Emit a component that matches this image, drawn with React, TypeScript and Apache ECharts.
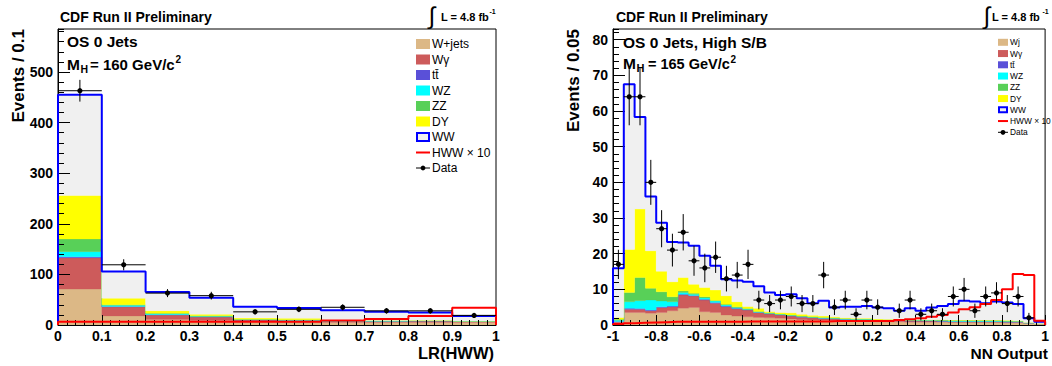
import React, { useEffect, useRef } from "react";
import * as echarts from "echarts";

const FONT = "'Liberation Sans', Arial, Helvetica, sans-serif";

// ---------------- Left panel: LR(HWW), 10 bins ----------------
const L_EDGES = [0, 0.1, 0.2, 0.3, 0.4, 0.5, 0.6, 0.7, 0.8, 0.9, 1.0];
const L_WJ = [71, 18, 11, 9, 7, 6, 5, 5, 5, 5];
const L_WG = [62, 18, 9, 7, 3, 3, 2.5, 2.5, 3, 2];
const L_TT = [2, 0.5, 0.3, 0.2, 0.2, 0.2, 0.1, 0.1, 0.1, 0.1];
const L_WZ = [10, 2.5, 2, 1, 0.5, 0.5, 0.4, 0.4, 0.3, 0.3];
const L_ZZ = [25, 1, 1, 1, 0.5, 0.5, 0.4, 0.4, 0.3, 0.3];
const L_DY = [86, 13, 5, 3, 2.5, 3, 0.6, 0.5, 0.5, 0.3];
const L_WW = [199, 52.5, 36.7, 32.8, 22.3, 20.3, 20, 17.1, 15.3, 10];
const L_HWW10 = [6.5, 6.5, 6.5, 6.5, 6.5, 6.5, 9, 12, 18, 34];
const L_DATA = [463, 119, 63, 58, 26, 31, 35, 28, 28, 19];
const L_DATA_ERR = [21.5, 10.9, 7.9, 7.6, 5.1, 5.6, 5.9, 5.3, 5.3, 4.4];
const L_LEGEND = ["W+jets", "W\u03b3", "tt\u0304", "WZ", "ZZ", "DY", "WW", "HWW \u00d7 10", "Data"];

// ---------------- Right panel: NN Output, 40 bins ----------------
const R_EDGES = [
  -1, -0.95, -0.9, -0.85, -0.8, -0.75, -0.7, -0.65, -0.6, -0.55, -0.5, -0.45, -0.4, -0.35,
  -0.3, -0.25, -0.2, -0.15, -0.1, -0.05, 0, 0.05, 0.1, 0.15, 0.2, 0.25, 0.3, 0.35, 0.4, 0.45,
  0.5, 0.55, 0.6, 0.65, 0.7, 0.75, 0.8, 0.85, 0.9, 0.95, 1,
];
const R_WJ = [0.6, 3.5, 3.5, 3.3, 3.5, 4.0, 4.7, 4.9, 3.7, 3.5, 2.8, 2.5, 2.3, 2.1, 2.0, 1.9, 1.7, 1.5, 1.4, 1.3, 1.2, 1.1, 1.0, 1.0, 0.9, 0.9, 0.9, 0.8, 0.8, 0.8, 0.8, 0.7, 0.7, 0.7, 0.7, 0.7, 0.6, 0.6, 0.5, 0.3];
const R_WG = [0.3, 0.9, 0.9, 0.7, 1.4, 1.1, 3.7, 3.2, 3.3, 2.6, 2.3, 2.0, 1.9, 1.4, 1.1, 0.9, 0.8, 0.7, 0.6, 0.5, 0.5, 0.4, 0.4, 0.4, 0.3, 0.3, 0.3, 0.3, 0.3, 0.3, 0.2, 0.2, 0.2, 0.2, 0.2, 0.2, 0.2, 0.2, 0.1, 0.1];
const R_TT = [0.1, 0.3, 0.2, 0.2, 0.2, 0.2, 0.2, 0.2, 0.2, 0.2, 0.2, 0.2, 0.1, 0.1, 0.1, 0.1, 0.1, 0.1, 0.1, 0.1, 0.1, 0.1, 0.1, 0.1, 0.1, 0.1, 0.1, 0.1, 0.1, 0.1, 0.1, 0.1, 0.1, 0.1, 0.1, 0.1, 0.1, 0.1, 0.0, 0.0];
const R_WZ = [0.3, 1.8, 2.2, 2.8, 1.6, 1.2, 0.5, 0.3, 0.4, 0.4, 0.3, 0.2, 0.1, 0.1, 0.1, 0.1, 0.1, 0.1, 0.1, 0.1, 0.1, 0.1, 0.1, 0.1, 0.1, 0.1, 0.1, 0.1, 0.1, 0.1, 0.1, 0.1, 0.1, 0.1, 0.1, 0.1, 0.1, 0.1, 0.0, 0.0];
const R_ZZ = [0.3, 2.6, 6.5, 3.3, 2.6, 1.4, 0.4, 0.3, 0.3, 0.2, 0.2, 0.2, 0.2, 0.1, 0.1, 0.1, 0.1, 0.1, 0.1, 0.1, 0.1, 0.1, 0.1, 0.1, 0.1, 0.1, 0.1, 0.1, 0.1, 0.1, 0.2, 0.2, 0.2, 0.2, 0.2, 0.2, 0.2, 0.1, 0.1, 0.0];
const R_DY = [0.5, 12.1, 19.2, 10.5, 5.8, 4.2, 3.8, 2.5, 2.6, 2.9, 2.4, 1.4, 0.6, 0.9, 0.4, 0.4, 0.6, 0.5, 0.4, 0.4, 0.3, 0.2, 0.2, 0.2, 0.2, 0.1, 0.1, 0.1, 0.1, 0.1, 0.1, 0.1, 0.1, 0.1, 0.1, 0.1, 0.1, 0.1, 0.0, 0.0];
const R_WW = [13.8, 46.3, 25.8, 15.2, 13.6, 11.2, 9.8, 10.8, 8.9, 6.8, 4.6, 6.0, 6.9, 6.2, 5.3, 4.9, 5.2, 4.5, 3.4, 4.3, 2.6, 3.1, 3.2, 3.4, 3.2, 3.1, 2.4, 3.2, 2.5, 3.4, 3.8, 4.5, 5.4, 5.2, 4.7, 5.2, 5.0, 4.7, 1.2, 0.5];
const R_HWW10 = [0.3, 0.5, 0.6, 0.7, 0.8, 0.9, 0.9, 0.9, 0.9, 0.9, 0.9, 0.9, 1.0, 1.0, 1.0, 1.0, 1.0, 1.0, 1.0, 1.0, 1.1, 1.1, 1.1, 1.1, 1.1, 1.1, 1.4, 1.6, 1.9, 2.3, 2.8, 3.5, 4.4, 5.0, 5.9, 7.0, 10.0, 14.3, 14.0, 1.2];
const R_DATA = [17, 64, 64, 40, 27, 21, 26, 18, 16, 19, 13, 14, 17, 7, 6, 7, 8, 6, 6, 14, 5, 7, 3, 7, 5, 0, 4, 7, 3, 4, 3, 8, 10, 4, 8, 9, 6, 8, 2, 0];
const R_DATA_ERR = [4.1, 8, 8, 6.3, 5.2, 4.6, 5.1, 4.2, 4, 4.4, 3.6, 3.7, 4.1, 2.6, 2.4, 2.6, 2.8, 2.4, 2.4, 3.7, 2.2, 2.6, 1.7, 2.6, 2.2, 0, 2, 2.6, 1.7, 2, 1.7, 2.8, 3.2, 2, 2.8, 3, 2.4, 2.8, 1.4, 0];
const R_LEGEND = ["Wj", "W\u03b3", "tt\u0304", "WZ", "ZZ", "DY", "WW", "HWW \u00d7 10", "Data"];

// ---------------- Styles ----------------
const C_WJ = "#dcb886";
const C_WG = "#cd5b5b";
const C_TT = "#5a50d8";
const C_WZ = "#00ffff";
const C_ZZ = "#58d058";
const C_DY = "#ffff00";
const C_WW = "#f0f0f0";
const C_WWLINE = "#0000ff";
const C_HWW = "#ff0000";
const STACK_COLORS = [C_WJ, C_WG, C_TT, C_WZ, C_ZZ, C_DY, C_WW];

type Pt = [number, number];

function stepPolygon(edges: number[], lower: number[], upper: number[]): Pt[] {
  const pts: Pt[] = [];
  for (let i = 0; i < upper.length; i++) {
    pts.push([edges[i], upper[i]], [edges[i + 1], upper[i]]);
  }
  for (let i = upper.length - 1; i >= 0; i--) {
    pts.push([edges[i + 1], lower[i]], [edges[i], lower[i]]);
  }
  return pts;
}

function stepOutline(edges: number[], tops: number[]): Pt[] {
  const n = tops.length;
  const pts: Pt[] = [[edges[0], 0]];
  for (let i = 0; i < n; i++) {
    pts.push([edges[i], tops[i]], [edges[i + 1], tops[i]]);
  }
  pts.push([edges[n], 0]);
  return pts;
}

function panelSeries(
  axisIdx: number,
  edges: number[],
  parts: number[][],
  hww: number[],
  data: number[],
  err: number[]
): any[] {
  const out: any[] = [];
  const n = edges.length - 1;
  let base = new Array(n).fill(0);
  const tops: number[][] = [];
  parts.forEach((vals, k) => {
    const top = base.map((b: number, i: number) => b + vals[i]);
    const poly = stepPolygon(edges, base, top);
    const color = STACK_COLORS[k];
    out.push({
      type: "custom",
      xAxisIndex: axisIdx,
      yAxisIndex: axisIdx,
      silent: true,
      z: 2,
      data: [[edges[0], 0]],
      renderItem: (_p: any, api: any) => ({
        type: "polygon",
        shape: { points: poly.map((p) => api.coord(p)) },
        style: { fill: color, stroke: color, lineWidth: 0.3 },
      }),
    });
    tops.push(top);
    base = top;
  });
  const wwTop = tops[tops.length - 1];
  out.push({
    type: "line",
    xAxisIndex: axisIdx,
    yAxisIndex: axisIdx,
    data: stepOutline(edges, wwTop),
    showSymbol: false,
    symbol: "none",
    silent: true,
    z: 4,
    lineStyle: { color: C_WWLINE, width: 2 },
  });
  out.push({
    type: "line",
    xAxisIndex: axisIdx,
    yAxisIndex: axisIdx,
    data: stepOutline(edges, hww),
    showSymbol: false,
    symbol: "none",
    silent: true,
    z: 4,
    lineStyle: { color: C_HWW, width: 2 },
  });
  const pts = data
    .map((v, i) => [(edges[i] + edges[i + 1]) / 2, v, err[i], edges[i], edges[i + 1]])
    .filter((d) => d[1] > 0);
  out.push({
    type: "custom",
    xAxisIndex: axisIdx,
    yAxisIndex: axisIdx,
    silent: true,
    z: 6,
    data: pts,
    encode: { x: 0, y: 1 },
    renderItem: (_p: any, api: any) => {
      const xc = api.value(0);
      const y = api.value(1);
      const e = api.value(2);
      const x0 = api.value(3);
      const x1 = api.value(4);
      const pc = api.coord([xc, y]);
      const pl = api.coord([x0, y]);
      const pr = api.coord([x1, y]);
      const pt = api.coord([xc, y + e]);
      const pb = api.coord([xc, Math.max(0, y - e)]);
      return {
        type: "group",
        children: [
          { type: "line", shape: { x1: pl[0], y1: pc[1], x2: pr[0], y2: pc[1] }, style: { stroke: "#000", lineWidth: 1 } },
          { type: "line", shape: { x1: pc[0], y1: pt[1], x2: pc[0], y2: pb[1] }, style: { stroke: "#000", lineWidth: 1 } },
          { type: "circle", shape: { cx: pc[0], cy: pc[1], r: 2.6 }, style: { fill: "#000" } },
        ],
      };
    },
  });
  return out;
}

const labelFont = { fontFamily: FONT, fontWeight: "bold" as const, fontSize: 14, color: "#000" };
const fmt1 = (v: number) => String(Math.round(v * 10) / 10);

function xAxes(grid: number, min: number, max: number, major: number, minor: number) {
  return [
    {
      type: "value", gridIndex: grid, position: "bottom", min, max, interval: major, z: 3,
      axisLine: { show: true, onZero: false, lineStyle: { color: "#000", width: 1 } },
      axisTick: { show: true, inside: true, length: 10, lineStyle: { color: "#000", width: 1 } },
      splitLine: { show: false },
      axisLabel: { ...labelFont, margin: 4, formatter: fmt1, showMinLabel: true, showMaxLabel: true },
    },
    {
      type: "value", gridIndex: grid, position: "bottom", min, max, interval: minor, z: 3,
      axisLine: { show: false, onZero: false },
      axisTick: { show: true, inside: true, length: 5, lineStyle: { color: "#000", width: 1 } },
      splitLine: { show: false },
      axisLabel: { show: false },
    },
  ];
}

function yAxes(grid: number, max: number, major: number, minor: number) {
  return [
    {
      type: "value", gridIndex: grid, position: "left", min: 0, max, interval: major, z: 3,
      axisLine: { show: true, onZero: false, lineStyle: { color: "#000", width: 1 } },
      axisTick: { show: true, inside: true, length: 12, lineStyle: { color: "#000", width: 1 } },
      splitLine: { show: false },
      axisLabel: { ...labelFont, margin: 5, showMaxLabel: false, showMinLabel: true },
    },
    {
      type: "value", gridIndex: grid, position: "left", min: 0, max, interval: minor, z: 3,
      axisLine: { show: false, onZero: false },
      axisTick: { show: true, inside: true, length: 6, lineStyle: { color: "#000", width: 1 } },
      splitLine: { show: false },
      axisLabel: { show: false },
    },
  ];
}

function txt(x: number, y: number, text: string, size: number, bold = true, align = "left", extra: any = {}) {
  return {
    type: "text",
    x,
    y,
    silent: true,
    z: 10,
    ...extra,
    style: {
      text,
      fontFamily: FONT,
      fontSize: size,
      fontWeight: bold ? "bold" : "normal",
      fill: "#000",
      align,
      verticalAlign: "middle",
    },
  };
}

function legendElems(labels: string[], bx: number, bw: number, bh: number, y0: number, dy: number, fs: number) {
  const els: any[] = [];
  labels.forEach((lab, i) => {
    const cy = y0 + i * dy;
    if (i < 6) {
      els.push({ type: "rect", z: 10, silent: true, shape: { x: bx, y: cy - bh / 2, width: bw, height: bh }, style: { fill: STACK_COLORS[i] } });
    } else if (i === 6) {
      els.push({ type: "rect", z: 10, silent: true, shape: { x: bx + 1, y: cy - bh / 2 + 1, width: bw - 2, height: bh - 2 }, style: { fill: C_WW, stroke: C_WWLINE, lineWidth: 2 } });
    } else if (i === 7) {
      els.push({ type: "line", z: 10, silent: true, shape: { x1: bx, y1: cy, x2: bx + bw, y2: cy }, style: { stroke: C_HWW, lineWidth: 2 } });
    } else {
      els.push({ type: "line", z: 10, silent: true, shape: { x1: bx, y1: cy, x2: bx + bw, y2: cy }, style: { stroke: "#000", lineWidth: 1 } });
      els.push({ type: "circle", z: 10, silent: true, shape: { cx: bx + bw / 2, cy, r: 2.4 }, style: { fill: "#000" } });
    }
    els.push(txt(bx + bw + 2, cy, lab, fs, false));
  });
  return els;
}

export default function App() {
  const ref = useRef<HTMLDivElement>(null);
  useEffect(() => {
    if (!ref.current) return;
    const chart = echarts.init(ref.current, undefined, { renderer: "svg" });
    const series = [
      ...panelSeries(0, L_EDGES, [L_WJ, L_WG, L_TT, L_WZ, L_ZZ, L_DY, L_WW], L_HWW10, L_DATA, L_DATA_ERR),
      ...panelSeries(2, R_EDGES, [R_WJ, R_WG, R_TT, R_WZ, R_ZZ, R_DY, R_WW], R_HWW10, R_DATA, R_DATA_ERR),
    ];
    const graphics: any[] = [
      txt(60, 16.5, "CDF Run II Preliminary", 14),
      txt(616, 16.5, "CDF Run II Preliminary", 14),
      txt(432, 15, "\u222b", 24, false, "center"),
      txt(441, 17, "L = 4.8 fb", 11),
      txt(489.5, 11, "-1", 7),
      txt(987, 15, "\u222b", 24, false, "center"),
      txt(992, 17, "L = 4.8 fb", 11),
      txt(1042.5, 11, "-1", 7),
      txt(67, 41, "OS 0 Jets", 15.5),
      txt(67, 64, "M", 15.5),
      txt(80.5, 68.5, "H", 10.5),
      txt(90, 64, "= 160 GeV/c", 15),
      txt(175.5, 59.5, "2", 10),
      txt(623, 42.5, "OS 0 Jets, High S/B", 15.5),
      txt(623, 63.5, "M", 15.5),
      txt(636.5, 68, "H", 11),
      txt(648, 63.5, "= 165 GeV/c", 14.5),
      txt(730.5, 59, "2", 10),
      txt(18.5, 29, "Events / 0.1", 17, true, "right", { rotation: Math.PI / 2 }),
      txt(573.5, 29, "Events / 0.05", 17, true, "right", { rotation: Math.PI / 2 }),
      txt(494, 353, "LR(HWW)", 16.5, true, "right"),
      txt(1048, 353, "NN Output", 15.5, true, "right"),
      ...legendElems(L_LEGEND, 416, 14, 10, 44, 15.5, 12),
      ...legendElems(R_LEGEND, 998, 10, 7, 42.3, 11.25, 8.4),
    ];
    chart.setOption({
      animation: false,
      backgroundColor: "#fff",
      grid: [
        { left: 58, top: 29, width: 438, height: 296, show: true, borderColor: "#000", borderWidth: 1, backgroundColor: "#fff" },
        { left: 613, top: 29, width: 437, height: 296, show: true, borderColor: "#000", borderWidth: 1, backgroundColor: "#fff" },
      ],
      xAxis: [...xAxes(0, 0, 1, 0.1, 0.02), ...xAxes(1, -1, 1, 0.2, 0.04)],
      yAxis: [...yAxes(0, 585, 100, 20), ...yAxes(1, 83, 10, 2)],
      series,
      graphic: { elements: graphics },
    });
    return () => chart.dispose();
  }, []);
  return <div ref={ref} style={{ position: "absolute", left: 0, top: 0, width: 1052, height: 366 }} />;
}
